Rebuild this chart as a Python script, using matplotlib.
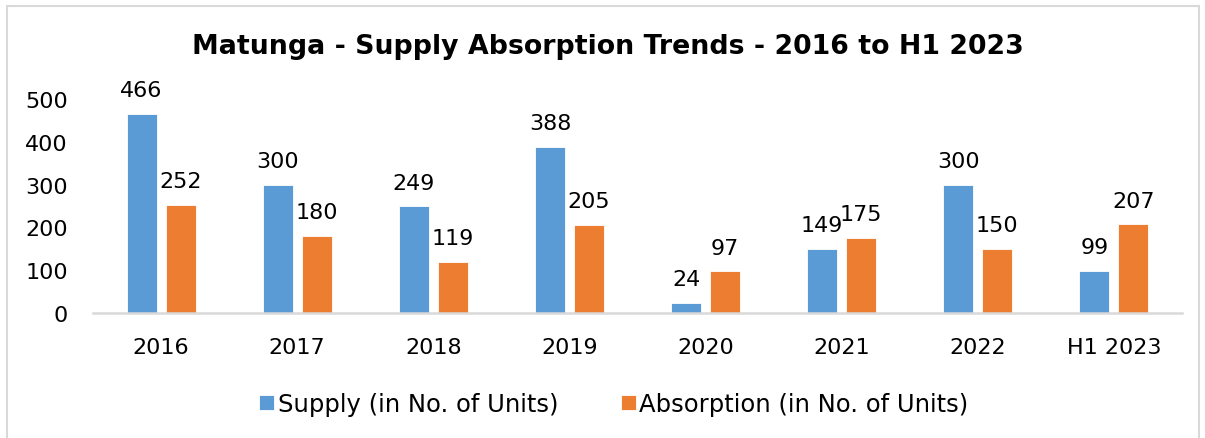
import matplotlib
matplotlib.use("Agg")
import matplotlib.pyplot as plt
from matplotlib.patches import Rectangle
import numpy as np

categories = ["2016", "2017", "2018", "2019", "2020", "2021", "2022", "H1 2023"]
supply = [466, 300, 249, 388, 24, 149, 300, 99]
absorption = [252, 180, 119, 205, 97, 175, 150, 207]
series_names = ["Supply (in No. of Units)", "Absorption (in No. of Units)"]
colors = ["#5B9BD5", "#ED7D31"]

plt.rcParams["font.family"] = "DejaVu Sans"

W, H = 1205, 439
fig = plt.figure(figsize=(W / 100, H / 100), dpi=100)
fig.patch.set_facecolor("white")

# outer chart frame
fig.add_artist(Rectangle((7 / W, -0.05), (1199 - 7) / W, 1.05 - 7 / H,
                         transform=fig.transFigure, fill=False,
                         edgecolor="#D9D9D9", linewidth=1.5))

ax = fig.add_axes([93 / W, 1 - 314 / H, 1089 / W, (314 - 100) / H])
x = np.arange(len(categories))
w = 0.22
off = 0.143
b1 = ax.bar(x - off, supply, w, color=colors[0], label=series_names[0],
            edgecolor="white", linewidth=0.6)
b2 = ax.bar(x + off, absorption, w, color=colors[1], label=series_names[1],
            edgecolor="white", linewidth=0.6)

for bars, vals in ((b1, supply), (b2, absorption)):
    for rect, v in zip(bars, vals):
        ax.annotate(str(v), (rect.get_x() + rect.get_width() / 2, v),
                    xytext=(0, 10), textcoords="offset points",
                    ha="center", va="bottom", fontsize=16, color="#000000")

ax.set_xlim(-0.5, len(categories) - 0.5)
ax.set_ylim(0, 500)
ax.set_yticks([0, 100, 200, 300, 400, 500])
ax.set_xticks(x)
ax.set_xticklabels(categories)
ax.tick_params(axis="both", length=0, labelsize=16, colors="#000000")
ax.tick_params(axis="x", pad=17)
ax.tick_params(axis="y", pad=18)
for s in ("top", "right", "left"):
    ax.spines[s].set_visible(False)
ax.spines["bottom"].set_color("#D9D9D9")
ax.spines["bottom"].set_linewidth(1.8)
ax.set_facecolor("none")

fig.text(608 / W, 1 - 47 / H, "Matunga - Supply Absorption Trends - 2016 to H1 2023",
         ha="center", va="center", fontsize=19.3, fontweight="bold")

fig.legend(handles=[b1, b2], labels=series_names, loc="center",
           bbox_to_anchor=(614 / W, 1 - 405 / H), ncol=2, frameon=False,
           fontsize=17.5, handlelength=0.6, handleheight=0.6,
           handletextpad=0.15, columnspacing=2.6)

fig.savefig("out.png", dpi=100)
